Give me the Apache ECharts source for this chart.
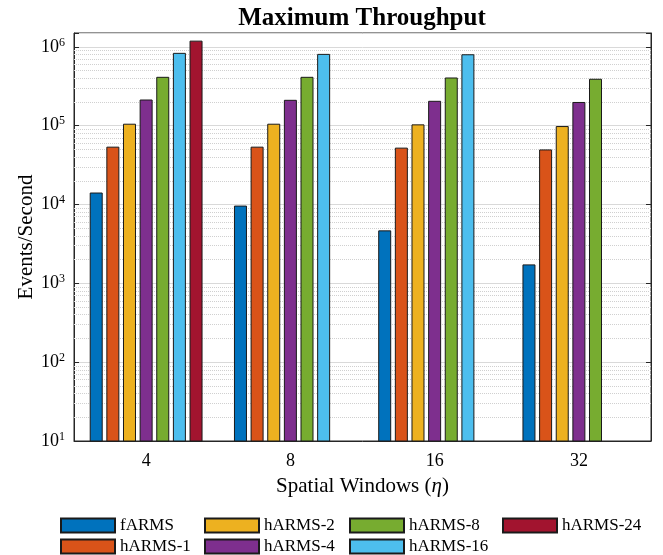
<!DOCTYPE html>
<html>
<head>
<meta charset="utf-8">
<script src="https://cdn.jsdelivr.net/npm/echarts@6/dist/echarts.min.js"></script>
<style>
html, body { margin: 0; padding: 0; background: #fff; }
#chart { width: 663px; height: 555px; }
</style>
</head>
<body>
<div id="chart"></div>
<script>
let windows = ['4', '8', '16', '32'];
let names = ['fARMS', 'hARMS-1', 'hARMS-2', 'hARMS-4', 'hARMS-8', 'hARMS-16', 'hARMS-24'];
let colors = ['#0072BD', '#D95319', '#EDB120', '#7E2F8E', '#77AC30', '#4DBEEE', '#A2142F'];

let fARMS = [14200, 9700, 4700, 1740];
let hARMS1 = [54200, 54200, 52700, 50000];
let hARMS2 = [106000, 106000, 104000, 99000];
let hARMS4 = [215000, 213000, 207000, 200000];
let hARMS8 = [417000, 417000, 409000, 394000];
let hARMS16 = [840000, 815000, 806000, null];
let hARMS24 = [1200000, null, null, null];
let values = [fARMS, hARMS1, hARMS2, hARMS4, hARMS8, hARMS16, hARMS24];

// minor grid lines at 2..9 x 10^n
let minorLines = [];
for (let n = 1; n <= 5; n++) {
	for (let k = 2; k <= 9; k++) minorLines.push(k * Math.pow(10, n));
}

let font = 'Liberation Serif';
let myChart = echarts.init(document.getElementById('chart'));

function expLabel(v) {
	let l = Math.log10(v);
	let e = Math.round(l);
	if (Math.abs(l - e) > 1e-6) return '';
	return '{b|10}{s|' + e + '}';
}

let series = names.map(function(name, i) {
	let s = {
		name: name,
		type: 'bar',
		data: values[i],
		barWidth: 13,
		barGap: '28%',
		itemStyle: {
			color: colors[i],
			borderColor: '#1a1a1a',
			borderWidth: 1
		},
		emphasis: { disabled: true },
		animation: false
	};
	if (i === 0) {
		s.markLine = {
			silent: true,
			symbol: 'none',
			z: 1,
			label: { show: false },
			lineStyle: { type: 'dotted', color: '#d0d0d0', width: 1 },
			data: minorLines.map(v => ({ yAxis: v })),
			animation: false
		};
	}
	return s;
});

let legendCols = [[0, 1, 60], [2, 3, 204], [4, 5, 349], [6, null, 502]];
let legends = legendCols.map(function(c) {
	let d = [names[c[0]]];
	if (c[1] !== null) d.push(names[c[1]]);
	return {
		data: d,
		orient: 'vertical',
		left: c[2],
		top: 517,
		padding: 0,
		itemWidth: 54,
		itemHeight: 14,
		itemGap: 4,
		icon: 'rect',
		textStyle: { fontFamily: font, fontSize: 17, color: '#000', lineHeight: 17 }
	};
});

let yBase = {
	type: 'log',
	logBase: 10,
	min: 10,
	max: 1500000
};

let option = {
	title: {
		text: 'Maximum Throughput',
		left: 362,
		top: 6,
		padding: 0,
		textAlign: 'center',
		textStyle: { fontFamily: font, fontSize: 25, fontWeight: 'bold', color: '#000' }
	},
	legend: legends,
	grid: {
		left: 74,
		right: 12,
		top: 33,
		bottom: 114,
		outerBoundsMode: 'none',
		show: true,
		borderColor: '#262626',
		borderWidth: 1
	},
	xAxis: {
		type: 'category',
		data: windows,
		axisLine: { lineStyle: { color: '#262626' } },
		axisTick: { show: false },
		axisLabel: { fontFamily: font, fontSize: 18, color: '#000', margin: 11 },
		name: 'Spatial Windows ({i|η})',
		nameLocation: 'middle',
		nameGap: 35,
		nameMoveOverlap: false,
		nameTextStyle: {
			fontFamily: font, fontSize: 21, color: '#000',
			rich: { i: { fontFamily: font, fontSize: 21, fontStyle: 'italic', color: '#000' } }
		}
	},
	yAxis: [
		Object.assign({}, yBase, {
			position: 'left',
			axisLine: { show: true, lineStyle: { color: '#262626' } },
			axisTick: { show: true, inside: true, length: 5, lineStyle: { color: '#262626' } },
			splitLine: { show: true, lineStyle: { color: '#d9d9d9', width: 1 } },
			axisLabel: {
				formatter: expLabel,
				margin: 9,
				color: '#000',
				rich: {
					b: { fontFamily: font, fontSize: 18, color: '#000' },
					s: { fontFamily: font, fontSize: 12, color: '#000', verticalAlign: 'bottom', padding: [0, 0, 9, 0] }
				}
			},
			name: 'Events/Second',
			nameLocation: 'middle',
			nameGap: 37,
			nameMoveOverlap: false,
			nameTextStyle: { fontFamily: font, fontSize: 21, color: '#000' }
		}),
		Object.assign({}, yBase, {
			position: 'right',
			axisLine: { show: true, lineStyle: { color: '#262626' } },
			axisTick: { show: true, inside: true, length: 5, lineStyle: { color: '#262626' } },
			splitLine: { show: false },
			axisLabel: { show: false }
		})
	],
	series: series
};
myChart.setOption(option);
</script>
</body>
</html>
